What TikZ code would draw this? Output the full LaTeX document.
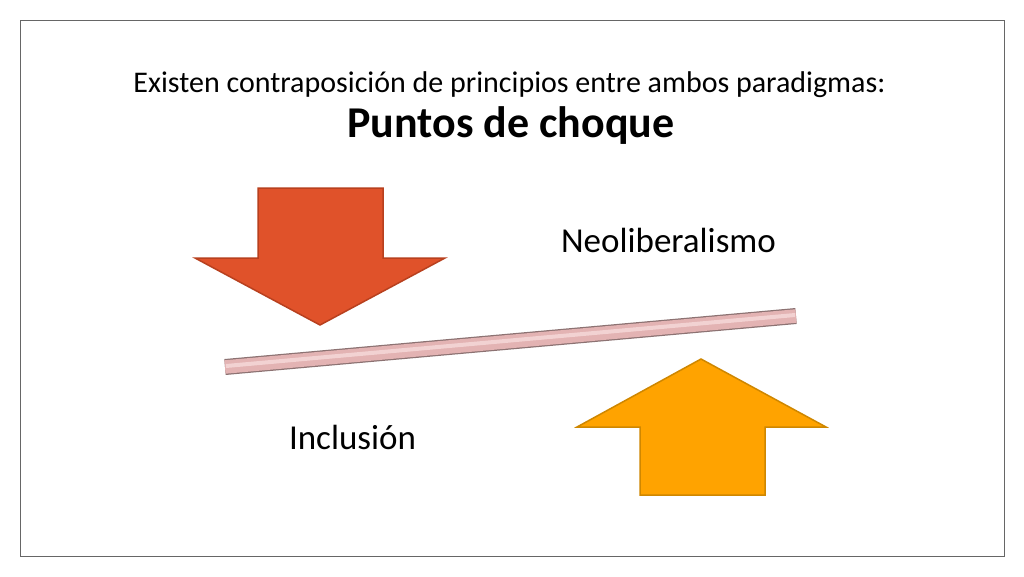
\documentclass[tikz,border=0pt]{standalone}
\usepackage{fontspec}
\setmainfont{Carlito}
\usetikzlibrary{calc}
\begin{document}
\begin{tikzpicture}[x=1pt,y=-1pt,
  redarrow/.style={fill=arrowred,draw=arrowredd,line width=1.5pt,line join=miter},
  orangearrow/.style={fill=arroworange,draw=arroworanged,line width=1.5pt,line join=miter},
  lbl/.style={font=\fontsize{35}{40}\selectfont,inner sep=0pt,anchor=base}]
\definecolor{arrowred}{HTML}{E0522A}
\definecolor{arrowredd}{HTML}{B8401E}
\definecolor{arroworange}{HTML}{FFA300}
\definecolor{arroworanged}{HTML}{CF8700}
\definecolor{barpink}{HTML}{E3B3B3}
\definecolor{barlight}{HTML}{F2D2D2}
\definecolor{bardark}{HTML}{8C7272}
\useasboundingbox (0,0) rectangle (1024,576);
\fill[white] (0,0) rectangle (1024,576);
\draw[gray!80!black,line width=0.8pt] (20,20) rectangle (1004,556);
\node[font=\fontsize{30}{34}\selectfont,inner sep=0pt,anchor=base] (t1) at (509.5,92) {Existen contraposición de principios entre ambos paradigmas:};
\node[font=\fontsize{44}{50}\selectfont\bfseries,inner sep=0pt,anchor=base] (t2) at (511,137) {Puntos de choque};
% down arrow
\draw[redarrow] (258,188) -- (383,188) -- (383,258) -- (445,258) -- (320,325) -- (195,258) -- (258,258) -- cycle;
% up arrow
\draw[orangearrow] (701,359) -- (826,427) -- (765,427) -- (765,495) -- (640,495) -- (640,427) -- (577,427) -- cycle;
% bar
\coordinate (bl) at (225,367);
\coordinate (br) at (796,316);
\draw[bardark,line width=16pt] (bl) -- (br);
\draw[barpink,line width=13.5pt] (bl) -- (br);
\draw[barlight,line width=4pt] ($(bl)+(1,-1)$) -- ($(br)+(-1,-1)$);
\node[lbl] (neo) at (668.5,252) {Neoliberalismo};
\node[lbl] (inc) at (352.5,449) {Inclusión};
\end{tikzpicture}
\end{document}
